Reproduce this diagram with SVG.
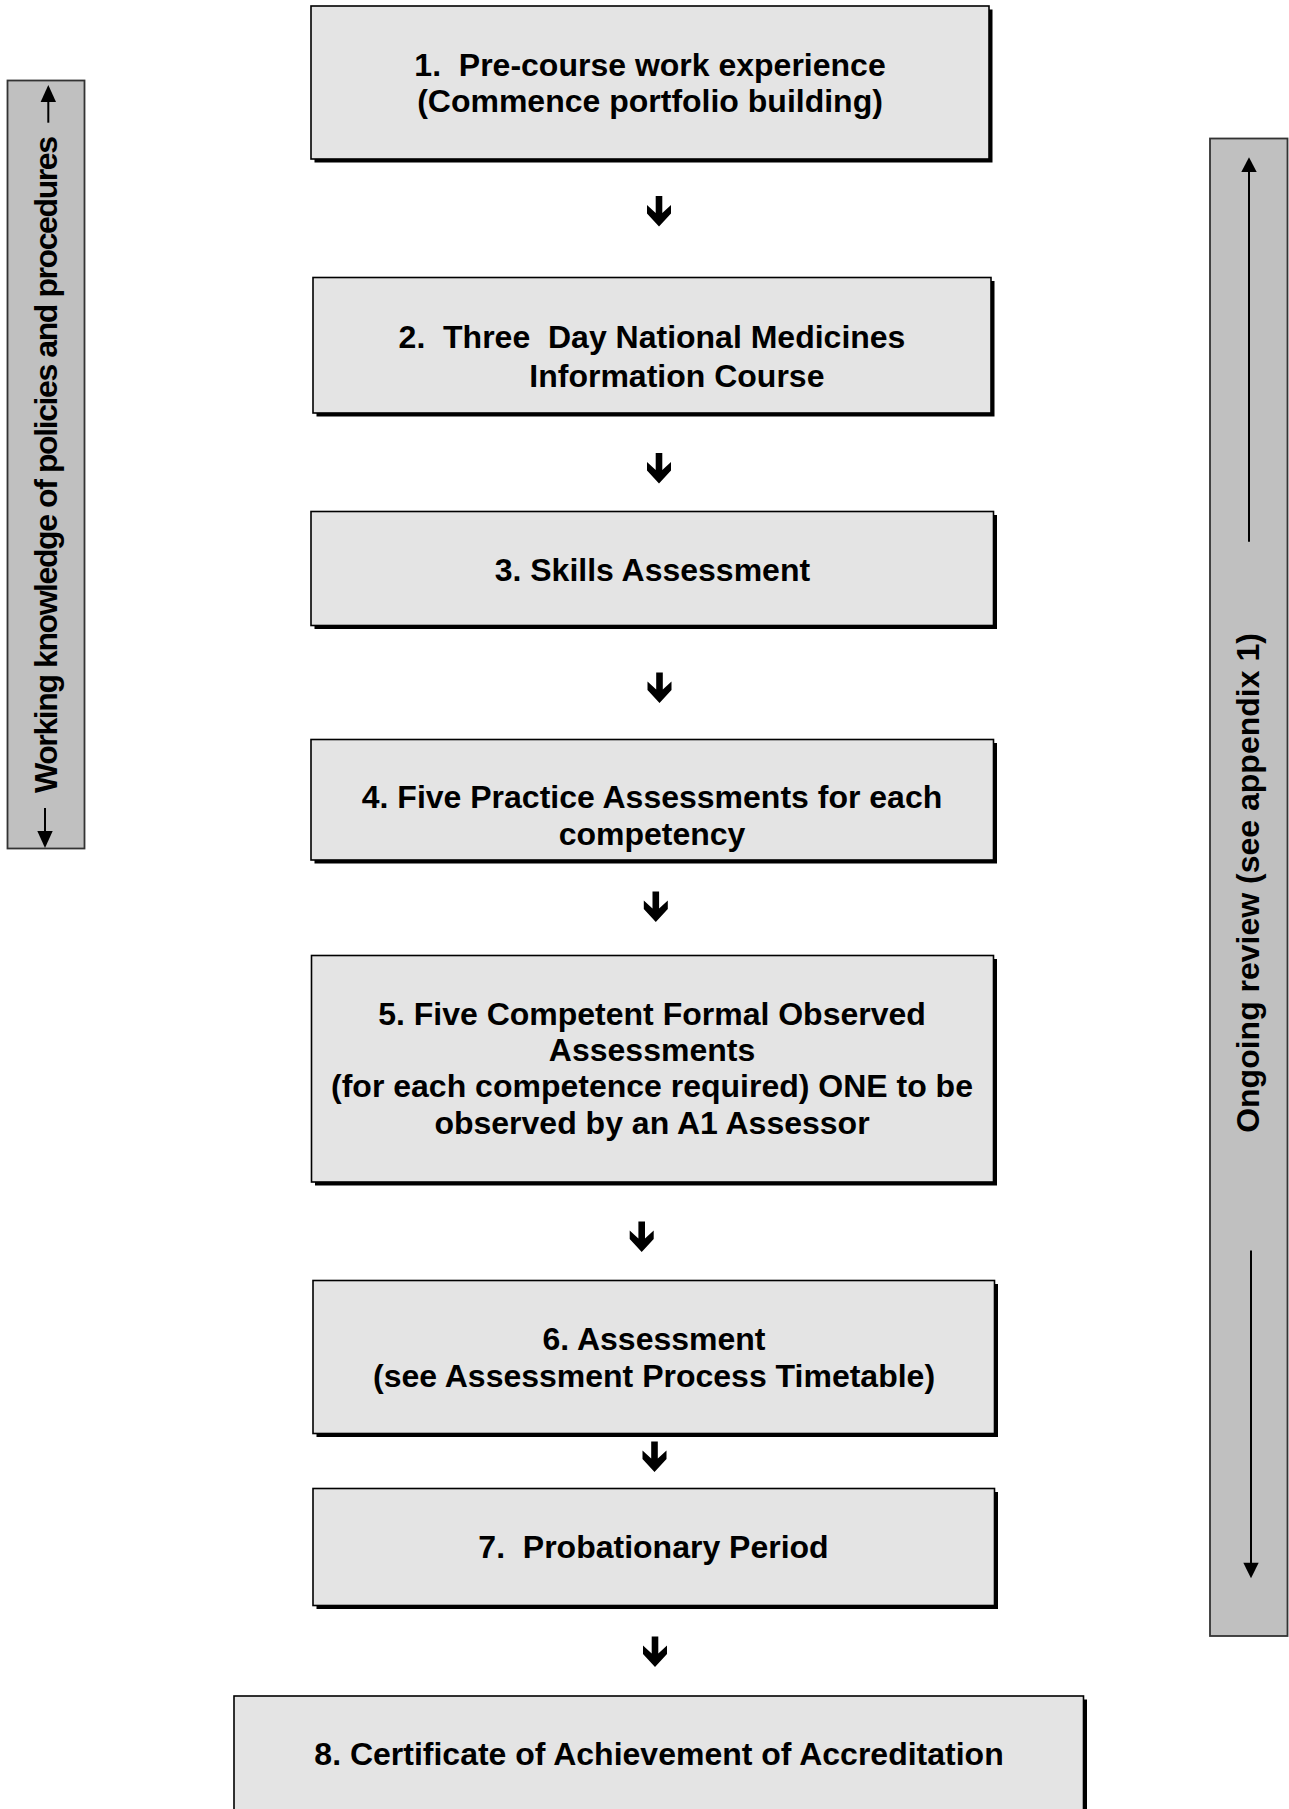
<svg xmlns="http://www.w3.org/2000/svg" xmlns:xlink="http://www.w3.org/1999/xlink" width="1289" height="1809" viewBox="0 0 1289 1809">
<style>
.box{fill:#e4e4e4;stroke:#000;stroke-width:1.6}
.sh{fill:#000}
.bar{fill:#c0c0c0;stroke:#333;stroke-width:1.8}
.t{font-family:"Liberation Sans",Arial,sans-serif;font-weight:bold;font-size:32px;fill:#000;text-anchor:middle}
.ln{stroke:#000;stroke-width:2;fill:none}
.hd{fill:#000}
.arr{fill:#000}
</style>
<defs>
<path id="dn" d="M-3.3,0 H3.3 V17 L12,9 V17.5 L0,30.5 L-12,17.5 V9 L-3.3,17 Z"/>
</defs>
<rect width="1289" height="1809" fill="#fff"/>

<g id="bar-left">
<rect class="bar" x="7.5" y="80.5" width="77" height="768"/>
<line class="ln" x1="48.3" y1="100" x2="48.3" y2="122.7"/>
<polygon class="hd" points="48.3,85 40.6,102 56,102"/>
<line class="ln" x1="45" y1="808" x2="45" y2="833"/>
<polygon class="hd" points="45,848 37.3,831 52.7,831"/>
<text class="t" transform="translate(57,464.5) rotate(-90)" textLength="657">Working knowledge of policies and procedures</text>
</g>

<g id="bar-right">
<rect class="bar" x="1210" y="138.5" width="77.5" height="1497.5"/>
<line class="ln" x1="1249" y1="170" x2="1249" y2="541.7"/>
<polygon class="hd" points="1249,157.3 1241.3,172 1256.7,172"/>
<line class="ln" x1="1251" y1="1250.5" x2="1251" y2="1565"/>
<polygon class="hd" points="1251,1578.3 1243.3,1562.7 1258.7,1562.7"/>
<text class="t" transform="translate(1258.5,883) rotate(-90)">Ongoing review (see appendix 1)</text>
</g>

<g id="n1">
<rect class="sh" x="314.5" y="9.5" width="678" height="153"/>
<rect class="box" x="311" y="6" width="678" height="153"/>
<text class="t" x="650" y="76" xml:space="preserve">1.  Pre-course work experience</text>
<text class="t" x="650" y="112">(Commence portfolio building)</text>
</g>

<g id="n2">
<rect class="sh" x="316.5" y="281" width="678" height="135.5"/>
<rect class="box" x="313" y="277.5" width="678" height="135.5"/>
<text class="t" x="652" y="348.3" xml:space="preserve">2.  Three  Day National Medicines</text>
<text class="t" x="529.3" y="386.7" style="text-anchor:start">Information Course</text>
</g>

<g id="n3">
<rect class="sh" x="314.5" y="515" width="682.5" height="114"/>
<rect class="box" x="311" y="511.5" width="682.5" height="114"/>
<text class="t" x="652.4" y="581">3. Skills Assessment</text>
</g>

<g id="n4">
<rect class="sh" x="314.5" y="743" width="682.5" height="120.5"/>
<rect class="box" x="311" y="739.5" width="682.5" height="120.5"/>
<text class="t" x="652" y="808.3">4. Five Practice Assessments for each</text>
<text class="t" x="652" y="845">competency</text>
</g>

<g id="n5">
<rect class="sh" x="315" y="959" width="682" height="226.5"/>
<rect class="box" x="311.5" y="955.5" width="682" height="226.5"/>
<text class="t" x="652" y="1025">5. Five Competent Formal Observed</text>
<text class="t" x="652" y="1061">Assessments</text>
<text class="t" x="652" y="1097">(for each competence required) ONE to be</text>
<text class="t" x="652" y="1133.5">observed by an A1 Assessor</text>
</g>

<g id="n6">
<rect class="sh" x="316.5" y="1284" width="681.5" height="153"/>
<rect class="box" x="313" y="1280.5" width="681.5" height="153"/>
<text class="t" x="654" y="1350">6. Assessment</text>
<text class="t" x="654" y="1386.6">(see Assessment Process Timetable)</text>
</g>

<g id="n7">
<rect class="sh" x="316.5" y="1492" width="681.5" height="117"/>
<rect class="box" x="313" y="1488.5" width="681.5" height="117"/>
<text class="t" x="653.5" y="1557.5" xml:space="preserve">7.  Probationary Period</text>
</g>

<g id="n8">
<rect class="sh" x="237.5" y="1699.5" width="849.5" height="140"/>
<rect class="box" x="234" y="1696" width="849.5" height="140"/>
<text class="t" x="659" y="1765">8. Certificate of Achievement of Accreditation</text>
</g>

<g id="connectors">
<use xlink:href="#dn" href="#dn" class="arr" transform="translate(659,196)"/>
<use xlink:href="#dn" href="#dn" class="arr" transform="translate(659,453)"/>
<use xlink:href="#dn" href="#dn" class="arr" transform="translate(659.5,672.5)"/>
<use xlink:href="#dn" href="#dn" class="arr" transform="translate(655.8,891.5)"/>
<use xlink:href="#dn" href="#dn" class="arr" transform="translate(641.7,1221.5)"/>
<use xlink:href="#dn" href="#dn" class="arr" transform="translate(654.5,1441.5)"/>
<use xlink:href="#dn" href="#dn" class="arr" transform="translate(655,1636.5)"/>
</g>
</svg>
